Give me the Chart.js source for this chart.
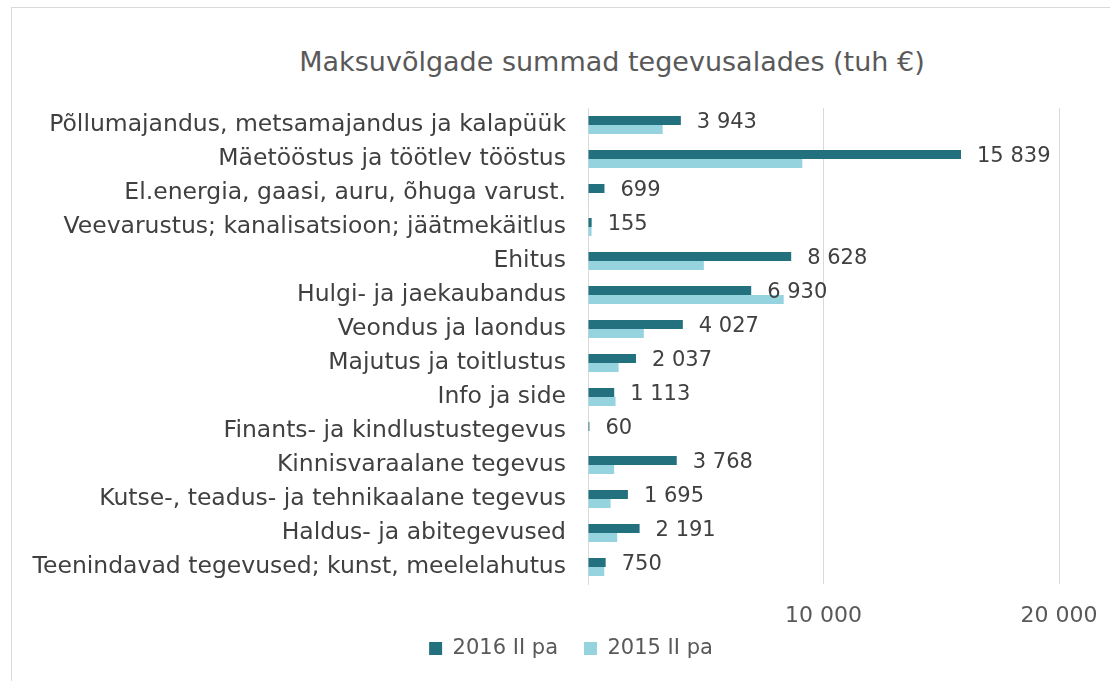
<!DOCTYPE html>
<html>
<head>
<meta charset="utf-8">
<script src="https://cdn.jsdelivr.net/npm/chart.js@4.4.1/dist/chart.umd.min.js"></script>
<style>
  body { margin: 0; background: #fff; }
  #wrap { position: relative; width: 1110px; height: 681px; overflow: hidden; }
  #frame { position: absolute; left: 11px; top: 7px; width: 1110px; height: 700px; border: 1px solid #d9d9d9; box-sizing: border-box; }
  #title { position: absolute; left: 0; width: 1224px; top: 46px; line-height: 32px; text-align: center;
           font-family: "DejaVu Sans", sans-serif; font-size: 27px; color: #595959; }
  canvas { position: absolute; left: 0; top: 0; }
</style>
</head>
<body>
<div id="wrap">
  <div id="frame"></div>
  <div id="title">Maksuvõlgade summad tegevusalades (tuh €)</div>
  <canvas id="chart" width="1110" height="681"></canvas>
</div>
<script>
const categories = [
  'Põllumajandus, metsamajandus ja kalapüük',
  'Mäetööstus ja töötlev tööstus',
  'El.energia, gaasi, auru, õhuga varust.',
  'Veevarustus; kanalisatsioon; jäätmekäitlus',
  'Ehitus',
  'Hulgi- ja jaekaubandus',
  'Veondus ja laondus',
  'Majutus ja toitlustus',
  'Info ja side',
  'Finants- ja kindlustustegevus',
  'Kinnisvaraalane tegevus',
  'Kutse-, teadus- ja tehnikaalane tegevus',
  'Haldus- ja abitegevused',
  'Teenindavad tegevused; kunst, meelelahutus'
];
const values2016 = [3943, 15839, 699, 155, 8628, 6930, 4027, 2037, 1113, 60, 3768, 1695, 2191, 750];
const values2015 = [3170, 9100, 10, 150, 4920, 8310, 2370, 1300, 1170, 20, 1110, 960, 1240, 690];
const xTicks = [0, 10000, 20000];

const FONT = '"DejaVu Sans", sans-serif';
const fmt = v => String(v).replace(/\B(?=(\d{3})+(?!\d))/g, ' ');

// value labels for the 2016 series
const barLabels = {
  id: 'barLabels',
  afterDatasetsDraw(chart) {
    const ctx = chart.ctx;
    const meta = chart.getDatasetMeta(0);
    ctx.save();
    ctx.font = '21px ' + FONT;
    ctx.fillStyle = '#404040';
    ctx.textAlign = 'left';
    ctx.textBaseline = 'middle';
    meta.data.forEach((bar, i) => {
      const y = chart.scales.y.getPixelForValue(i);
      ctx.fillText(fmt(values2016[i]), bar.x + 16, y - 2);
    });
    ctx.restore();
  }
};

// fixed axis sizes; labels may spill outside the axis box
function fixX(s) {
  s.height = 28;
  s.paddingLeft = 0;
  s.paddingRight = 0;
  s._computeLabelArea = () => undefined;
}
function fixY(s) {
  s.width = 505;
  s._computeLabelArea = () => undefined;
}

new Chart(document.getElementById('chart'), {
  type: 'bar',
  data: {
    labels: categories,
    datasets: [
      { label: '2016 II pa', data: values2016, backgroundColor: '#23717e' },
      { label: '2015 II pa', data: values2015, backgroundColor: '#95d4de' }
    ]
  },
  options: {
    indexAxis: 'y',
    responsive: false,
    animation: false,
    categoryPercentage: 0.53,
    barPercentage: 1.0,
    layout: { padding: { top: 108, left: 83, right: 51, bottom: 12 } },
    scales: {
      x: {
        min: xTicks[0],
        max: xTicks[xTicks.length - 1],
        afterBuildTicks: s => { s.ticks = xTicks.map(v => ({ value: v })); },
        afterFit: fixX,
        grid: { color: '#d9d9d9', drawTicks: false },
        border: { display: false },
        ticks: {
          padding: 19,
          color: '#595959',
          font: { family: FONT, size: 22 },
          callback: v => v === 0 ? '' : fmt(v)
        }
      },
      y: {
        afterFit: fixY,
        grid: { display: false, drawTicks: false },
        border: { color: '#d9d9d9', width: 1 },
        ticks: {
          padding: 22,
          color: '#404040',
          font: { family: FONT, size: 23.5 }
        }
      }
    },
    plugins: {
      legend: {
        position: 'bottom',
        labels: {
          boxWidth: 13,
          boxHeight: 13,
          padding: 26,
          color: '#595959',
          font: { family: FONT, size: 21 }
        }
      },
      tooltip: { enabled: false }
    }
  },
  plugins: [barLabels]
});
</script>
</body>
</html>
